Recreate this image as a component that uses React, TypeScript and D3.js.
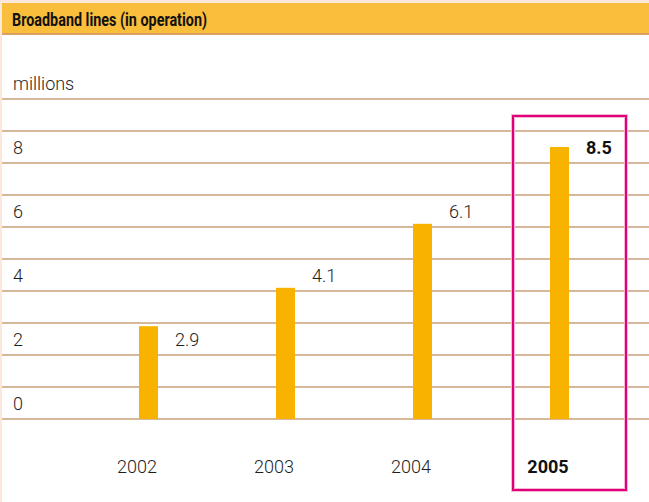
import React from 'react';
import * as d3 from 'd3';

const years = ['2002', '2003', '2004', '2005'];
const values = [2.9, 4.1, 6.1, 8.5];
const valueLabels = ['2.9', '4.1', '6.1', '8.5'];
const gridValues = [0, 1, 2, 3, 4, 5, 6, 7, 8, 9, 10];
const tickValues = [0, 2, 4, 6, 8];
const highlightYear = '2005';

const W = 649;
const H = 502;

export default function App() {
  const y = d3.scaleLinear().domain([0, 10]).range([419, 99]);
  const x = d3.scalePoint<string>().domain(years).range([137, 548]);
  const barW = 19;
  const font = 'Roboto, "Liberation Sans", sans-serif';

  // highlight frame around the last year
  const hx = x(highlightYear)! - 35;

  return (
    <svg width={W} height={H} style={{ position: 'absolute', left: 0, top: 0 }}>
      <rect x={0} y={0} width={W} height={H} fill="#ffffff" />
      {/* peach frame */}
      <rect x={0} y={0} width={W} height={3} fill="#fbe8da" />
      <rect x={0} y={0} width={2} height={H} fill="#fbe8da" />
      {/* header */}
      <rect x={2} y={3} width={W - 2} height={31} fill="#f9be3b" />
      <line x1={2} x2={W} y1={34} y2={34} stroke="#d9a062" strokeWidth={2} />
      <text x={12} y={26} fontFamily={font} fontWeight={700} fontSize={18.5} fill="#111"
        textLength={195} lengthAdjust="spacingAndGlyphs">
        Broadband lines (in operation)
      </text>

      <text x={13} y={90} fontFamily={font} fontWeight={300} fontSize={18} fill="#1e1e1e">millions</text>

      {gridValues.map(v => (
        <line key={v} x1={2} x2={W} y1={y(v)} y2={y(v)} stroke="#c9a07a" strokeWidth={1.5} />
      ))}

      {tickValues.map(v => (
        <text key={v} x={13} y={y(v) - 9} fontFamily={font} fontWeight={300} fontSize={18} fill="#1e1e1e">{v}</text>
      ))}

      {years.map((yr, i) => (
        <g key={yr}>
          <rect x={x(yr)! + 2} y={y(values[i])} width={barW} height={y(0) - y(values[i])} fill="#f8b200" />
          <text x={x(yr)! + 38} y={y(Math.floor(values[i])) - 9} fontFamily={font}
            fontWeight={yr === highlightYear ? 700 : 300} fontSize={18} fill={yr === highlightYear ? '#111' : '#1e1e1e'}>
            {valueLabels[i]}
          </text>
          <text x={x(yr)!} y={473} textAnchor="middle" fontFamily={font}
            fontWeight={yr === highlightYear ? 700 : 300} fontSize={18} fill={yr === highlightYear ? '#111' : '#1e1e1e'}>
            {yr}
          </text>
        </g>
      ))}

      <rect x={hx} y={116} width={113} height={374} fill="none" stroke="#f6b8d6" strokeWidth={4} />
      <rect x={hx} y={116} width={113} height={374} fill="none" stroke="#e2007a" strokeWidth={2} />
    </svg>
  );
}
